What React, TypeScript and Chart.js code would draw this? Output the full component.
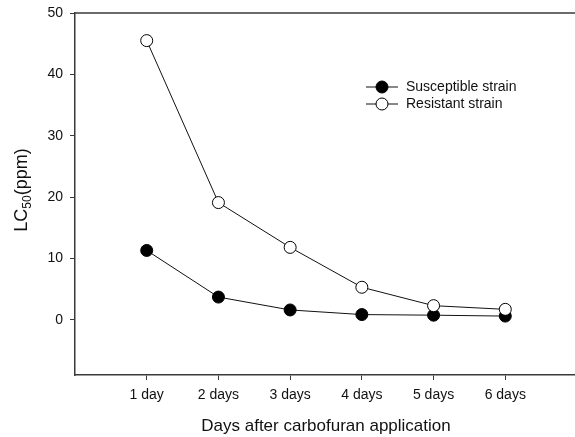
import React, { useEffect, useRef } from "react";
import { Chart, registerables } from "chart.js";

Chart.register(...registerables);

const categories = ["1 day", "2 days", "3 days", "4 days", "5 days", "6 days"];
const susceptible = [11.3, 3.7, 1.6, 0.85, 0.75, 0.6];
const resistant = [45.5, 19.1, 11.8, 5.3, 2.3, 1.7];
const yTicks = [0, 10, 20, 30, 40, 50];
const seriesNames = ["Susceptible strain", "Resistant strain"];
const xTitle = "Days after carbofuran application";

const FONT = "'Liberation Sans', Arial, sans-serif";
const AXIS_COLOR = "#3a3a3a";

const framePlugin = {
  id: "frame",
  afterDraw(chart: any) {
    const { ctx, chartArea } = chart;
    ctx.save();
    // top border
    ctx.strokeStyle = AXIS_COLOR;
    ctx.lineWidth = 1.5;
    ctx.beginPath();
    ctx.moveTo(chartArea.left, chartArea.top);
    ctx.lineTo(chartArea.right, chartArea.top);
    ctx.stroke();

    // y title with subscript
    ctx.fillStyle = "#111";
    ctx.translate(27, 190);
    ctx.rotate(-Math.PI / 2);
    ctx.textBaseline = "alphabetic";
    ctx.textAlign = "left";
    const big = `18px ${FONT}`;
    const small = `12px ${FONT}`;
    ctx.font = big;
    const w1 = ctx.measureText("LC").width;
    const w3 = ctx.measureText("(ppm)").width;
    ctx.font = small;
    const w2 = ctx.measureText("50").width;
    let x = -(w1 + w2 + w3) / 2;
    ctx.font = big;
    ctx.fillText("LC", x, 0);
    x += w1;
    ctx.font = small;
    ctx.fillText("50", x, 4);
    x += w2;
    ctx.font = big;
    ctx.fillText("(ppm)", x, 0);
    ctx.restore();

    // x title
    ctx.save();
    ctx.fillStyle = "#111";
    ctx.font = `17px ${FONT}`;
    ctx.textAlign = "center";
    ctx.textBaseline = "middle";
    ctx.fillText(xTitle, (chartArea.left + chartArea.right) / 2, 426);
    ctx.restore();

    // legend
    ctx.save();
    const rows = [
      { y: 87, fill: "#000" },
      { y: 104, fill: "#fff" },
    ];
    rows.forEach((r, i) => {
      ctx.strokeStyle = "#111";
      ctx.lineWidth = 1;
      ctx.beginPath();
      ctx.moveTo(366, r.y);
      ctx.lineTo(398, r.y);
      ctx.stroke();
      ctx.beginPath();
      ctx.arc(382, r.y, 6, 0, Math.PI * 2);
      ctx.fillStyle = r.fill;
      ctx.fill();
      ctx.strokeStyle = "#000";
      ctx.stroke();
      ctx.fillStyle = "#111";
      ctx.font = `14px ${FONT}`;
      ctx.textAlign = "left";
      ctx.textBaseline = "middle";
      ctx.fillText(seriesNames[i], 406, r.y);
    });
    ctx.restore();
  },
};

export default function App() {
  const ref = useRef<HTMLCanvasElement>(null);

  useEffect(() => {
    if (!ref.current) return;
    const chart = new Chart(ref.current, {
      type: "line",
      data: {
        datasets: [
          {
            label: seriesNames[1],
            data: resistant.map((v, i) => ({ x: i + 1, y: v })),
            borderColor: "#111",
            borderWidth: 1,
            pointRadius: 6,
            pointBackgroundColor: "#fff",
            pointBorderColor: "#000",
            pointBorderWidth: 1,
            tension: 0,
          },
          {
            label: seriesNames[0],
            data: susceptible.map((v, i) => ({ x: i + 1, y: v })),
            borderColor: "#111",
            borderWidth: 1,
            pointRadius: 6,
            pointBackgroundColor: "#000",
            pointBorderColor: "#000",
            pointBorderWidth: 1,
            tension: 0,
          },
        ],
      },
      options: {
        animation: false,
        responsive: false,
        layout: { autoPadding: false, padding: { top: 13, right: 0, left: 0, bottom: 0 } },
        plugins: {
          legend: { display: false },
          tooltip: { enabled: false },
        },
        scales: {
          x: {
            type: "linear",
            min: 0,
            max: 7,
            afterBuildTicks: (s: any) => {
              s.ticks = categories.map((_, i) => ({ value: i + 1 }));
            },
            afterFit: (s: any) => {
              s.height = 62;
              s.paddingLeft = 0;
              s.paddingRight = 0;
            },
            ticks: {
              callback: (v: any) => categories[Number(v) - 1] ?? "",
              color: "#111",
              font: { family: FONT, size: 14 },
              padding: 7,
              maxRotation: 0,
              autoSkip: false,
            },
            grid: {
              drawOnChartArea: false,
              drawTicks: true,
              tickLength: 5,
              tickColor: AXIS_COLOR,
              tickWidth: 1,
            },
            border: { display: true, color: AXIS_COLOR, width: 1.5 },
          },
          y: {
            type: "linear",
            min: -9,
            max: 50,
            afterBuildTicks: (s: any) => {
              s.ticks = yTicks.map((v) => ({ value: v }));
            },
            afterFit: (s: any) => {
              s.width = 75;
              s.paddingTop = 0;
              s.paddingBottom = 0;
            },
            ticks: {
              color: "#111",
              font: { family: FONT, size: 14 },
              padding: 7,
            },
            grid: {
              drawOnChartArea: false,
              drawTicks: true,
              tickLength: 5,
              tickColor: AXIS_COLOR,
              tickWidth: 1,
            },
            border: { display: true, color: AXIS_COLOR, width: 1.5 },
          },
        },
      },
      plugins: [framePlugin],
    });
    return () => chart.destroy();
  }, []);

  return (
    <div
      style={{
        position: "absolute",
        left: 0,
        top: 0,
        width: 575,
        height: 437,
        overflow: "hidden",
        background: "#fff",
      }}
    >
      <canvas ref={ref} width={577} height={437} style={{ display: "block" }} />
    </div>
  );
}
